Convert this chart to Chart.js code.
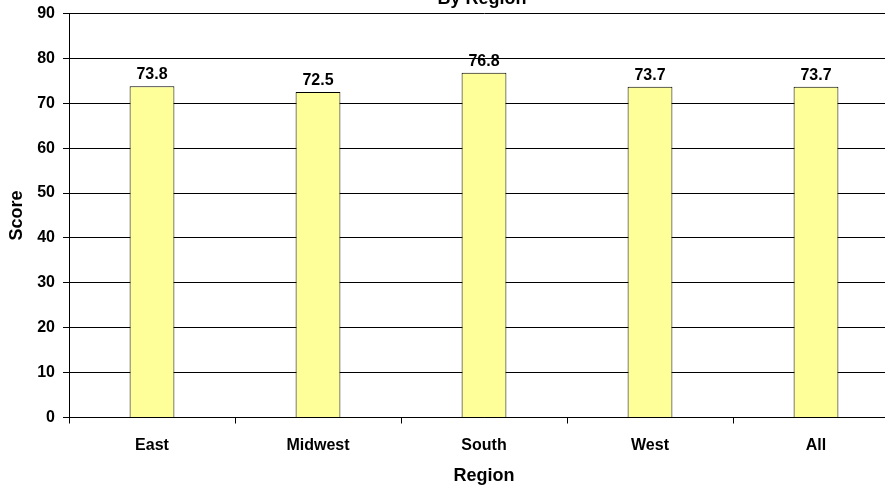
<!DOCTYPE html>
<html>
<head>
<meta charset="utf-8">
<script src="https://cdn.jsdelivr.net/npm/chart.js@4"></script>
<style>
html,body{margin:0;padding:0;background:#fff;overflow:hidden;}
#wrap{width:885px;height:487px;position:relative;overflow:hidden;}
canvas{display:block;}
</style>
</head>
<body>
<div id="wrap"><canvas id="c" width="900" height="487"></canvas></div>
<script>
const categories = ["East", "Midwest", "South", "West", "All"];
const scores = [73.8, 72.5, 76.8, 73.7, 73.7];
const yTicks = [0, 10, 20, 30, 40, 50, 60, 70, 80, 90];
const chartTitle = "By Region";
const xTitle = "Region";
const yTitle = "Score";

const FONT = "'Liberation Sans', Arial, sans-serif";

const valueLabels = {
  id: 'valueLabels',
  afterDatasetsDraw(chart) {
    const ctx = chart.ctx;
    const meta = chart.getDatasetMeta(0);
    ctx.save();
    ctx.font = "bold 16px " + FONT;
    ctx.fillStyle = "#000";
    ctx.textAlign = "center";
    ctx.textBaseline = "alphabetic";
    meta.data.forEach((bar, i) => {
      ctx.fillText(scores[i].toFixed(1), bar.x, bar.y - 7);
    });
    ctx.restore();
  }
};

const topTitle = {
  id: 'topTitle',
  afterDraw(chart) {
    const ctx = chart.ctx;
    const a = chart.chartArea;
    ctx.save();
    ctx.font = "bold 18px " + FONT;
    ctx.fillStyle = "#000";
    ctx.textAlign = "center";
    ctx.textBaseline = "alphabetic";
    ctx.fillText(chartTitle, (a.left + a.right) / 2 - 2, 3.5);
    ctx.restore();
  }
};

new Chart(document.getElementById('c'), {
  type: 'bar',
  data: {
    labels: categories,
    datasets: [{
      data: scores,
      backgroundColor: '#FFFF99',
      borderColor: '#000000',
      borderWidth: 1,
      barPercentage: 0.27,
      categoryPercentage: 1.0
    }]
  },
  options: {
    responsive: false,
    animation: false,
    devicePixelRatio: 1,
    layout: { padding: { top: 13.5, right: 1, left: 0, bottom: 0 } },
    plugins: {
      legend: { display: false },
      tooltip: { enabled: false },
      title: { display: false }
    },
    scales: {
      x: {
        grid: {
          offset: true,
          drawOnChartArea: false,
          drawTicks: true,
          tickLength: 6,
          color: '#000'
        },
        border: { color: '#000', width: 1 },
        ticks: {
          color: '#000',
          font: { family: FONT, size: 16, weight: 'bold' },
          padding: 12
        },
        title: {
          display: true,
          text: xTitle,
          color: '#000',
          font: { family: FONT, size: 18, weight: 'bold' },
          padding: { top: 10, bottom: 0 }
        },
        afterFit(scale) {
          scale.height = 69.5;
          scale.paddingLeft = 0;
          scale.paddingRight = 0;
        }
      },
      y: {
        min: 0,
        max: 90,
        afterBuildTicks(scale) { scale.ticks = yTicks.map(v => ({ value: v })); },
        grid: {
          color: '#000',
          lineWidth: 1,
          drawTicks: true,
          tickLength: 6
        },
        border: { color: '#000', width: 1 },
        ticks: {
          color: '#000',
          font: { family: FONT, size: 16, weight: 'bold' },
          padding: 8
        },
        title: {
          display: true,
          text: yTitle,
          color: '#000',
          font: { family: FONT, size: 18, weight: 'bold' },
          padding: { top: 6, bottom: 0 }
        },
        afterFit(scale) {
          scale.width = 69;
          scale.paddingTop = 0;
          scale.paddingBottom = 0;
        }
      }
    }
  },
  plugins: [valueLabels, topTitle]
});
</script>
</body>
</html>
